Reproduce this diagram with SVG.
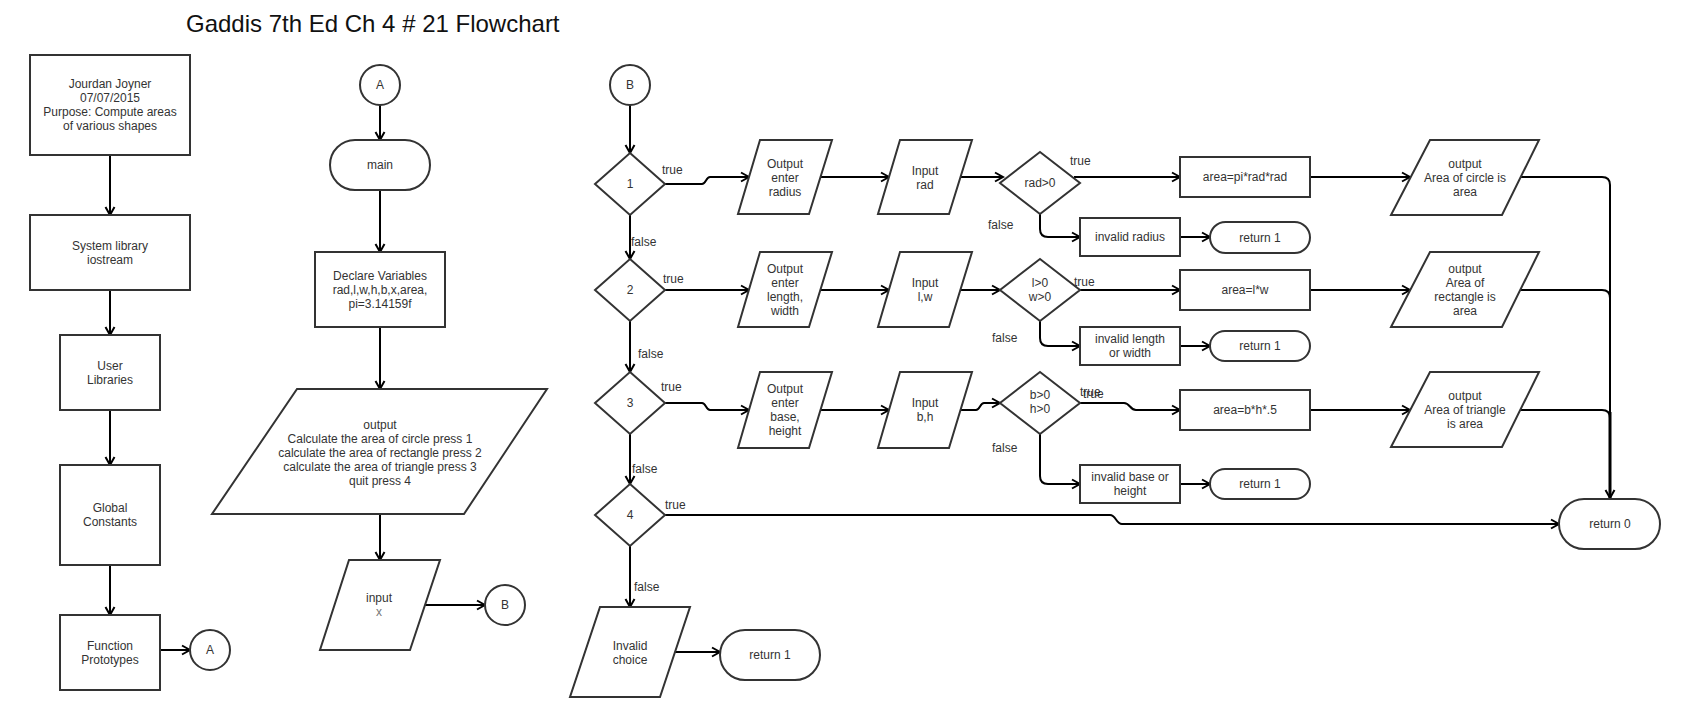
<svg xmlns="http://www.w3.org/2000/svg" width="1686" height="717" viewBox="0 0 1686 717">
<defs>
<marker id="arr" markerUnits="userSpaceOnUse" markerWidth="12" markerHeight="12" refX="10" refY="6" orient="auto">
<path d="M2,1.5 L10,6 L2,10.5" fill="none" stroke="#000" stroke-width="2"/>
</marker>
<style>
.s{fill:#fff;stroke:#333;stroke-width:2}
.t{font-family:"Liberation Sans",Arial,sans-serif;font-size:12px;fill:#333;text-anchor:middle}
.l{font-family:"Liberation Sans",Arial,sans-serif;font-size:12px;fill:#333}
.c{fill:none;stroke:#000;stroke-width:2}
.a{marker-end:url(#arr)}
</style>
</defs>
<rect width="1686" height="717" fill="#fff"/>
<text x="186" y="32" font-family="'Liberation Sans',Arial,sans-serif" font-size="24" fill="#111">Gaddis 7th Ed Ch 4 # 21 Flowchart</text>

<g id="connectors">
<path class="c a" d="M110,155 V215"/>
<path class="c a" d="M110,290 V335"/>
<path class="c a" d="M110,410 V465"/>
<path class="c a" d="M110,565 V615"/>
<path class="c a" d="M160,650 H190"/>
<path class="c a" d="M380,105 V140"/>
<path class="c a" d="M380,190 V252"/>
<path class="c a" d="M380,327 V389"/>
<path class="c a" d="M380,514 V560"/>
<path class="c a" d="M425,605 H485"/>
<path class="c a" d="M630,105 V153"/>
<path class="c a" d="M665,184 H702 C706,184 706,177 710,177 H749"/>
<path class="c a" d="M820,177 H889"/>
<path class="c a" d="M960,177 H1003"/>
<path class="c a" d="M1074,177 H1180"/>
<path class="c a" d="M1310,177 H1410"/>
<path class="c" d="M1520,177 H1602 Q1610,177 1610,185 V420"/>
<path class="c a" d="M1610,412 V498" style="stroke-width:3"/>
<path class="c a" d="M1040,214 V229 Q1040,237 1048,237 H1080"/>
<path class="c a" d="M1180,237 H1210"/>
<path class="c a" d="M630,215 V259"/>
<path class="c a" d="M665,290 H749"/>
<path class="c a" d="M820,290 H889"/>
<path class="c a" d="M960,290 H1000"/>
<path class="c a" d="M1080,290 H1180"/>
<path class="c a" d="M1310,290 H1410"/>
<path class="c" d="M1520,290 H1602 Q1610,290 1610,298"/>
<path class="c a" d="M1040,321 V338 Q1040,346 1048,346 H1080"/>
<path class="c a" d="M1180,346 H1210"/>
<path class="c a" d="M630,321 V372"/>
<path class="c a" d="M665,403 H702 C706,403 706,410 710,410 H749"/>
<path class="c a" d="M820,410 H889"/>
<path class="c a" d="M960,410 H976 C980,410 980,403 984,403 H1000"/>
<path class="c a" d="M1080,403 H1124 C1130,403 1130,410 1136,410 H1180"/>
<path class="c a" d="M1310,410 H1410"/>
<path class="c" d="M1520,410 H1602 Q1610,410 1610,418"/>
<path class="c a" d="M1040,434 V476 Q1040,484 1048,484 H1080"/>
<path class="c a" d="M1180,484 H1210"/>
<path class="c a" d="M630,434 V484"/>
<path class="c a" d="M665,515 H1110 C1116,515 1116,524 1122,524 H1559"/>
<path class="c a" d="M630,546 V607"/>
<path class="c a" d="M675,652 H720"/>
</g>

<g id="edge-labels">
<text class="l" x="662" y="174">true</text>
<text class="l" x="631" y="246">false</text>
<text class="l" x="663" y="283">true</text>
<text class="l" x="638" y="358">false</text>
<text class="l" x="661" y="391">true</text>
<text class="l" x="632" y="473">false</text>
<text class="l" x="665" y="509">true</text>
<text class="l" x="634" y="591">false</text>
<text class="l" x="1070" y="165">true</text>
<text class="l" x="988" y="229">false</text>
<text class="l" x="1074" y="286">true</text>
<text class="l" x="992" y="342">false</text>
<text class="l" x="1080" y="396">true</text>
<text class="l" x="1083" y="398">true</text>
<text class="l" x="992" y="452">false</text>
</g>

<g id="n-header"><rect class="s" x="30" y="55" width="160" height="100"/>
<text class="t" x="110" y="88">Jourdan Joyner<tspan x="110" dy="14">07/07/2015</tspan><tspan x="110" dy="14">Purpose: Compute areas</tspan><tspan x="110" dy="14">of various shapes</tspan></text></g>
<g id="n-syslib"><rect class="s" x="30" y="215" width="160" height="75"/>
<text class="t" x="110" y="250">System library<tspan x="110" dy="14">iostream</tspan></text></g>
<g id="n-userlib"><rect class="s" x="60" y="335" width="100" height="75"/>
<text class="t" x="110" y="370">User<tspan x="110" dy="14">Libraries</tspan></text></g>
<g id="n-global"><rect class="s" x="60" y="465" width="100" height="100"/>
<text class="t" x="110" y="512">Global<tspan x="110" dy="14">Constants</tspan></text></g>
<g id="n-proto"><rect class="s" x="60" y="615" width="100" height="75"/>
<text class="t" x="110" y="650">Function<tspan x="110" dy="14">Prototypes</tspan></text></g>
<g id="n-A1"><circle class="s" cx="210" cy="650" r="20"/><text class="t" x="210" y="654">A</text></g>

<g id="n-A2"><circle class="s" cx="380" cy="85" r="20"/><text class="t" x="380" y="89">A</text></g>
<g id="n-main"><rect class="s" x="330" y="140" width="100" height="50" rx="25"/><text class="t" x="380" y="169">main</text></g>
<g id="n-declare"><rect class="s" x="315" y="252" width="130" height="75"/>
<text class="t" x="380" y="280">Declare Variables<tspan x="380" dy="14">rad,l,w,h,b,x,area,</tspan><tspan x="380" dy="14">pi=3.14159f</tspan></text></g>
<g id="n-menu"><polygon class="s" points="297,389 547,389 464,514 212,514"/>
<text class="t" x="380" y="429">output<tspan x="380" dy="14">Calculate the area of circle press 1</tspan><tspan x="380" dy="14">calculate the area of rectangle press 2</tspan><tspan x="380" dy="14">calculate the area of triangle press 3</tspan><tspan x="380" dy="14">quit press 4</tspan></text></g>
<g id="n-inputx"><polygon class="s" points="349,560 440,560 410,650 320,650"/>
<text class="t" x="379" y="602">input</text><text class="t" x="379" y="616" style="fill:#777">x</text></g>
<g id="n-B1"><circle class="s" cx="505" cy="605" r="20"/><text class="t" x="505" y="609">B</text></g>

<g id="n-B2"><circle class="s" cx="630" cy="85" r="20"/><text class="t" x="630" y="89">B</text></g>
<g id="n-d1"><polygon class="s" points="630,153 665,184 630,215 595,184"/><text class="t" x="630" y="188">1</text></g>
<g id="n-d2"><polygon class="s" points="630,259 665,290 630,321 595,290"/><text class="t" x="630" y="294">2</text></g>
<g id="n-d3"><polygon class="s" points="630,372 665,403 630,434 595,403"/><text class="t" x="630" y="407">3</text></g>
<g id="n-d4"><polygon class="s" points="630,484 665,515 630,546 595,515"/><text class="t" x="630" y="519">4</text></g>

<g id="n-out-rad"><polygon class="s" points="760,140 832,140 809,214 738,214"/>
<text class="t" x="785" y="168">Output<tspan x="785" dy="14">enter</tspan><tspan x="785" dy="14">radius</tspan></text></g>
<g id="n-in-rad"><polygon class="s" points="900,140 972,140 949,214 878,214"/>
<text class="t" x="925" y="175">Input<tspan x="925" dy="14">rad</tspan></text></g>
<g id="n-dr"><polygon class="s" points="1040,152 1080,183 1040,214 1000,183"/><text class="t" x="1040" y="187">rad&gt;0</text></g>
<g id="n-area-c"><rect class="s" x="1180" y="157" width="130" height="40"/><text class="t" x="1245" y="181">area=pi*rad*rad</text></g>
<g id="n-out-c"><polygon class="s" points="1430,140 1539,140 1502,215 1391,215"/>
<text class="t" x="1465" y="168">output<tspan x="1465" dy="14">Area of circle is</tspan><tspan x="1465" dy="14">area</tspan></text></g>
<g id="n-inv-r"><rect class="s" x="1080" y="218" width="100" height="38"/><text class="t" x="1130" y="241">invalid radius</text></g>
<g id="n-ret-r"><rect class="s" x="1210" y="222" width="100" height="31" rx="15.5"/><text class="t" x="1260" y="242">return 1</text></g>

<g id="n-out-lw"><polygon class="s" points="760,252 832,252 809,327 738,327"/>
<text class="t" x="785" y="273">Output<tspan x="785" dy="14">enter</tspan><tspan x="785" dy="14">length,</tspan><tspan x="785" dy="14">width</tspan></text></g>
<g id="n-in-lw"><polygon class="s" points="900,252 972,252 949,327 878,327"/>
<text class="t" x="925" y="287">Input<tspan x="925" dy="14">l,w</tspan></text></g>
<g id="n-dlw"><polygon class="s" points="1040,259 1080,290 1040,321 1000,290"/>
<text class="t" x="1040" y="287">l&gt;0<tspan x="1040" dy="14">w&gt;0</tspan></text></g>
<g id="n-area-r"><rect class="s" x="1180" y="270" width="130" height="40"/><text class="t" x="1245" y="294">area=l*w</text></g>
<g id="n-out-r"><polygon class="s" points="1430,252 1539,252 1502,327 1391,327"/>
<text class="t" x="1465" y="273">output<tspan x="1465" dy="14">Area of</tspan><tspan x="1465" dy="14">rectangle is</tspan><tspan x="1465" dy="14">area</tspan></text></g>
<g id="n-inv-lw"><rect class="s" x="1080" y="327" width="100" height="38"/>
<text class="t" x="1130" y="343">invalid length<tspan x="1130" dy="14">or width</tspan></text></g>
<g id="n-ret-lw"><rect class="s" x="1210" y="331" width="100" height="30" rx="15"/><text class="t" x="1260" y="350">return 1</text></g>

<g id="n-out-bh"><polygon class="s" points="760,372 832,372 809,448 738,448"/>
<text class="t" x="785" y="393">Output<tspan x="785" dy="14">enter</tspan><tspan x="785" dy="14">base,</tspan><tspan x="785" dy="14">height</tspan></text></g>
<g id="n-in-bh"><polygon class="s" points="900,372 972,372 949,448 878,448"/>
<text class="t" x="925" y="407">Input<tspan x="925" dy="14">b,h</tspan></text></g>
<g id="n-dbh"><polygon class="s" points="1040,372 1080,403 1040,434 1000,403"/>
<text class="t" x="1040" y="399">b&gt;0<tspan x="1040" dy="14">h&gt;0</tspan></text></g>
<g id="n-area-t"><rect class="s" x="1180" y="390" width="130" height="40"/><text class="t" x="1245" y="414">area=b*h*.5</text></g>
<g id="n-out-t"><polygon class="s" points="1430,372 1539,372 1502,447 1391,447"/>
<text class="t" x="1465" y="400">output<tspan x="1465" dy="14">Area of triangle</tspan><tspan x="1465" dy="14">is area</tspan></text></g>
<g id="n-inv-bh"><rect class="s" x="1080" y="465" width="100" height="38"/>
<text class="t" x="1130" y="481">invalid base or<tspan x="1130" dy="14">height</tspan></text></g>
<g id="n-ret-bh"><rect class="s" x="1210" y="469" width="100" height="30" rx="15"/><text class="t" x="1260" y="488">return 1</text></g>

<g id="n-ret0"><rect class="s" x="1559" y="499" width="101" height="50" rx="25"/><text class="t" x="1610" y="528">return 0</text></g>
<g id="n-invalid"><polygon class="s" points="600,607 690,607 660,697 570,697"/>
<text class="t" x="630" y="650">Invalid<tspan x="630" dy="14">choice</tspan></text></g>
<g id="n-ret-inv"><rect class="s" x="720" y="630" width="100" height="50" rx="25"/><text class="t" x="770" y="659">return 1</text></g>
</svg>
